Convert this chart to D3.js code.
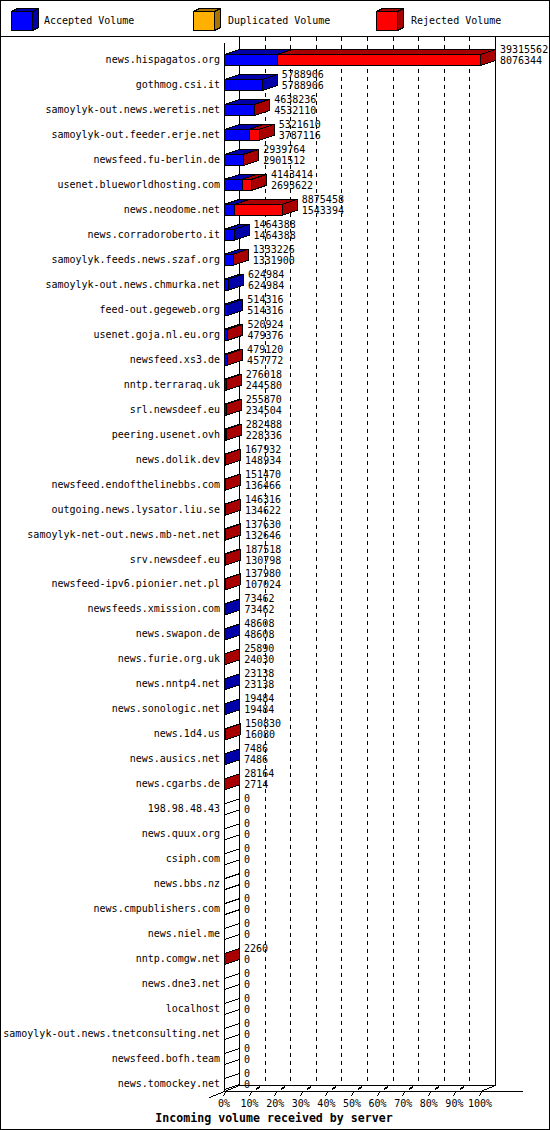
<!DOCTYPE html>
<html><head><meta charset="utf-8">
<script src="https://cdn.jsdelivr.net/npm/d3@7"></script>
<style>
html,body{margin:0;padding:0;background:#fff;}
text{font-family:"DejaVu Sans Mono",monospace;font-size:10px;fill:#000;}
</style></head>
<body>
<script>
const categories = [
"news.hispagatos.org","gothmog.csi.it","samoylyk-out.news.weretis.net","samoylyk-out.feeder.erje.net",
"newsfeed.fu-berlin.de","usenet.blueworldhosting.com","news.neodome.net","news.corradoroberto.it",
"samoylyk.feeds.news.szaf.org","samoylyk-out.news.chmurka.net","feed-out.gegeweb.org","usenet.goja.nl.eu.org",
"newsfeed.xs3.de","nntp.terraraq.uk","srl.newsdeef.eu","peering.usenet.ovh","news.dolik.dev",
"newsfeed.endofthelinebbs.com","outgoing.news.lysator.liu.se","samoylyk-net-out.news.mb-net.net",
"srv.newsdeef.eu","newsfeed-ipv6.pionier.net.pl","newsfeeds.xmission.com","news.swapon.de",
"news.furie.org.uk","news.nntp4.net","news.sonologic.net","news.1d4.us","news.ausics.net","news.cgarbs.de",
"198.98.48.43","news.quux.org","csiph.com","news.bbs.nz","news.cmpublishers.com","news.niel.me",
"nntp.comgw.net","news.dne3.net","localhost","samoylyk-out.news.tnetconsulting.net","newsfeed.bofh.team",
"news.tomockey.net"];
const totalVolume = [
39315562,5788906,4638236,5321610,2939764,4143414,8875458,1464388,1333226,624984,514316,520924,
479120,276018,255870,282488,167932,151470,146316,137630,187518,137980,73462,48608,25890,23138,
19484,150830,7486,28164,0,0,0,0,0,0,2260,0,0,0,0,0];
const acceptedVolume = [
8076344,5788906,4532110,3787116,2901512,2693622,1543394,1464388,1331900,624984,514316,479376,
457772,244580,234504,228336,148934,136466,134622,132646,130798,107024,73462,48608,24030,23138,
19484,16080,7486,2714,0,0,0,0,0,0,0,0,0,0,0,0];
const duplicatedVolume = [
0,0,0,0,0,0,0,0,0,0,0,0,0,0,0,0,0,0,0,0,0,0,0,0,0,0,0,0,0,0,0,0,0,0,0,0,0,0,0,0,0,0];
const legendLabels = ["Accepted Volume","Duplicated Volume","Rejected Volume"];
const tickLabels = ["0%","10%","20%","30%","40%","50%","60%","70%","80%","90%","100%"];
const titleText = "Incoming volume received by server";

const colors = {acc:["#0000ff","#0000a8"], dup:["#ffb000","#a87400"], rej:["#ff0000","#a80000"]};

const W = 550, H = 1130;
const X0 = 224, X1 = 480, DX = 15, DY = 5, FDY = 6;
const TOP = 37, FLOOR = 1091;

const svg = d3.select("body").append("svg").attr("width",W).attr("height",H)
  .attr("shape-rendering","crispEdges");
svg.append("rect").attr("x",0.5).attr("y",0.5).attr("width",W-1).attr("height",H-1)
  .attr("fill","#fff").attr("stroke","#000");

// Legend
const legendX = [11, 193, 376];
const legendTextX = [44, 228, 411];
const legendCols = [colors.acc, colors.dup, colors.rej];
legendLabels.forEach((lab,i)=>{
  const x = legendX[i]+0.5, y = 11.5, w = 21, h = 19, dx = 6, dy = 3;
  const g = svg.append("g");
  g.append("polygon").attr("points",[[x,y],[x+dx,y-dy],[x+w+dx,y-dy],[x+w,y]].join(" "))
    .attr("fill",legendCols[i][1]).attr("stroke","#000");
  g.append("polygon").attr("points",[[x+w,y],[x+w+dx,y-dy],[x+w+dx,y+h-dy],[x+w,y+h]].join(" "))
    .attr("fill",legendCols[i][1]).attr("stroke","#000");
  g.append("rect").attr("x",x).attr("y",y).attr("width",w).attr("height",h)
    .attr("fill",legendCols[i][0]).attr("stroke","#000");
  g.append("text").attr("x",legendTextX[i]).attr("y",21).attr("dominant-baseline","middle").text(lab);
});
svg.append("line").attr("x1",0).attr("x2",W).attr("y1",36.5).attr("y2",36.5).attr("stroke","#000");

// Scales
const maxTotal = d3.max(totalVolume);
const x = d3.scaleLinear().domain([0,maxTotal]).range([X0,X1]);
const pct = d3.scaleLinear().domain([0,100]).range([X0,X1]);
const y = d3.scalePoint().domain(categories).range([60,1084]);
const pctTicks = d3.range(0,101,10);

// gridlines at back
svg.append("g").selectAll("line").data(pctTicks.filter(t=>t>0 && t<100)).join("line")
  .attr("x1",t=>Math.round(pct(t)+DX)+0.5).attr("x2",t=>Math.round(pct(t)+DX)+0.5)
  .attr("y1",TOP).attr("y2",FLOOR-FDY)
  .attr("stroke","#000").attr("stroke-dasharray","4,4");
// back walls
[X0+DX, X1+DX].forEach(v=>{
  svg.append("line").attr("x1",v+0.5).attr("x2",v+0.5).attr("y1",TOP).attr("y2",FLOOR-FDY+0.5).attr("stroke","#000");
});
// floor
svg.append("line").attr("x1",X0+DX).attr("x2",X1+DX+1).attr("y1",FLOOR-FDY+0.5).attr("y2",FLOOR-FDY+0.5).attr("stroke","#000");
svg.append("line").attr("x1",X0).attr("x2",523).attr("y1",FLOOR+0.5).attr("y2",FLOOR+0.5).attr("stroke","#000");
svg.append("line").attr("x1",X0-DX+0.5).attr("y1",FLOOR+FDY+0.5).attr("x2",X0+DX+0.5).attr("y2",FLOOR-FDY+0.5).attr("stroke","#000");
svg.append("line").attr("x1",X1+0.5).attr("y1",FLOOR+0.5).attr("x2",X1+DX+0.5).attr("y2",FLOOR-FDY+0.5).attr("stroke","#000");
// front axis
svg.append("line").attr("x1",X0+0.5).attr("x2",X0+0.5).attr("y1",TOP+FDY).attr("y2",FLOOR+1).attr("stroke","#000");
// floor tick marks
const tg = svg.append("g");
pctTicks.forEach(t=>{
  const px = Math.round(pct(t));
  tg.append("line").attr("x1",px-0.5).attr("y1",FLOOR+5.5).attr("x2",px+1.5).attr("y2",FLOOR+0.5).attr("stroke","#000");
  if (t>0 && t<100) {
    tg.append("line").attr("x1",px+6).attr("y1",FLOOR-2).attr("x2",px+10).attr("y2",FLOOR-4)
      .attr("stroke","#000").attr("stroke-width",2);
  }
});
svg.append("g").selectAll("text").data(pctTicks).join("text")
  .attr("x",(t)=>pct(t)).attr("y",1104).attr("text-anchor","middle").attr("dominant-baseline","middle")
  .text((t,i)=>tickLabels[i]);
svg.append("text").attr("x",274).attr("y",1118).attr("text-anchor","middle").attr("dominant-baseline","middle")
  .style("font-weight","bold").style("font-size","11.6px").text(titleText);

// Category labels
svg.append("g").selectAll("text").data(categories).join("text")
  .attr("x",220).attr("y",d=>y(d)).attr("text-anchor","end").attr("dominant-baseline","middle").text(d=>d);

// Bars
const rows = categories.map((c,i)=>({c, total: totalVolume[i], acc: acceptedVolume[i], dup: duplicatedVolume[i]}));
const bg = svg.append("g");
rows.forEach(r=>{
  const yc = y(r.c);
  const top = yc - 6 + 0.5, bot = yc + 5 + 0.5;
  const segs = [
    {a:0, b:r.acc, col:colors.acc},
    {a:r.acc, b:r.acc+r.dup, col:colors.dup},
    {a:r.acc+r.dup, b:r.total, col:colors.rej}
  ].filter(s=>s.b>s.a);
  segs.forEach(s=>{
    const xa = x(s.a)+0.5, xb = x(s.b)+0.5;
    bg.append("polygon").attr("points",[[xa,top],[xa+DX,top-DY],[xb+DX,top-DY],[xb,top]].join(" "))
      .attr("fill",s.col[1]).attr("stroke","#000");
    bg.append("polygon").attr("points",[[xa,top],[xb,top],[xb,bot],[xa,bot]].join(" "))
      .attr("fill",s.col[0]).attr("stroke","#000");
  });
  const xe = x(r.total)+0.5;
  const sideCol = segs.length ? segs[segs.length-1].col[1] : "#fff";
  if (!segs.length) {
    bg.append("line").attr("x1",xe).attr("y1",top).attr("x2",xe+DX).attr("y2",top-DY).attr("stroke","#000");
  }
  bg.append("polygon").attr("points",[[xe,top],[xe+DX,top-DY],[xe+DX,bot-DY],[xe,bot]].join(" "))
    .attr("fill",sideCol).attr("stroke","#000");
  const tx = x(r.total)+DX+5;
  bg.append("text").attr("x",tx).attr("y",yc-10).attr("dominant-baseline","middle").text(r.total);
  bg.append("text").attr("x",tx).attr("y",yc+1).attr("dominant-baseline","middle").text(r.acc);
});
</script>
</body></html>
